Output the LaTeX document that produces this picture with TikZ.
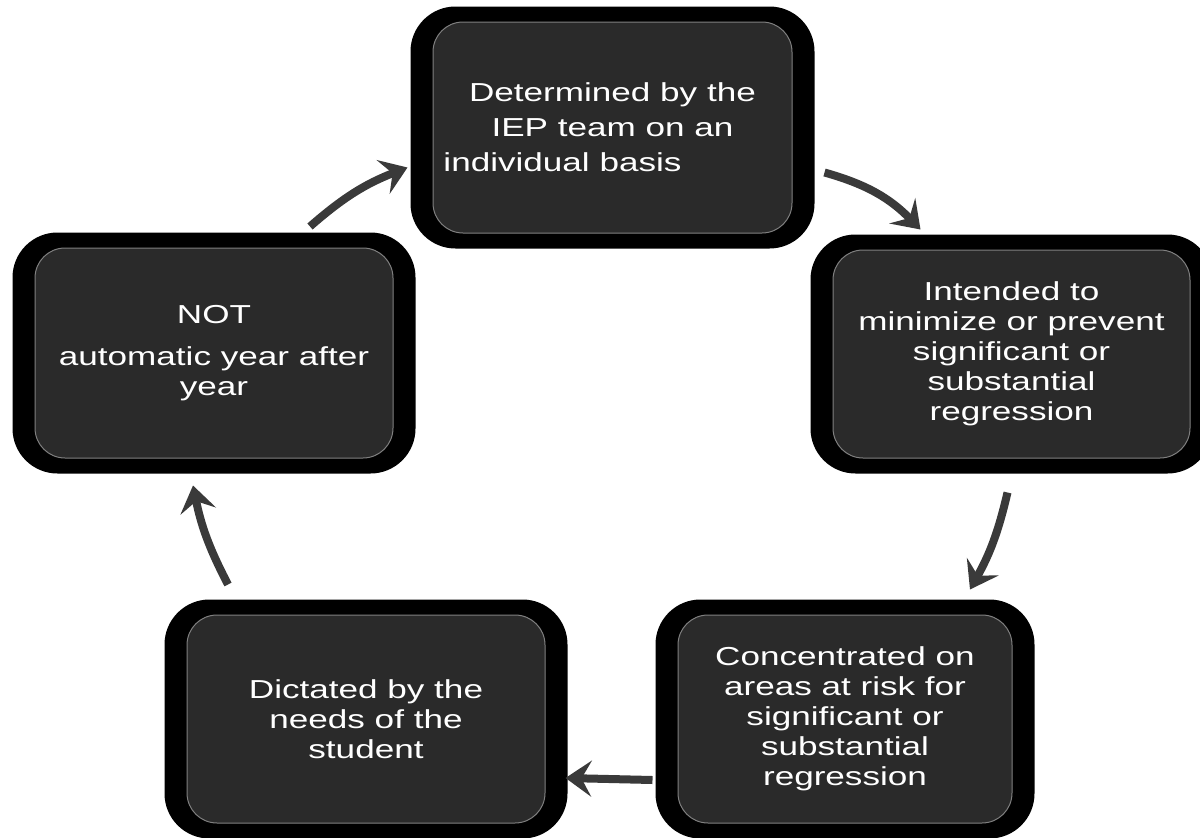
\documentclass[tikz,border=0pt]{standalone}
\usepackage{fontspec}
\setmainfont{Liberation Sans}[FakeStretch=1.35]
\usetikzlibrary{arrows.meta,backgrounds}
\definecolor{boxgray}{HTML}{2A2A2A}
\definecolor{arrowgray}{HTML}{3A3A3A}
\tikzset{
    cyclebox/.style={fill=boxgray, draw=black!50, line width=1pt, rounded corners=30pt,
        text=white, align=center, inner sep=0pt, font=\fontsize{26}{30}\selectfont},
    cyclearrow/.style={draw=arrowgray, line width=8pt,
        -{Stealth[length=26pt,width=36pt,inset=10pt]}},
}

\begin{document}
\begin{tikzpicture}[x=1pt, y=-1pt]

    \useasboundingbox (0,0) rectangle (1200,838);

    % --- BOXES ---
    \node[cyclebox, font=\fontsize{26}{35}\selectfont, minimum width=359pt, minimum height=211pt]
        (determined) at (612.5,127.5) {Determined by the\\IEP team on an\\individual basis\kern100pt};
    \node[cyclebox, minimum width=357pt, minimum height=208pt]
        (intended) at (1011.5,354) {Intended to\\minimize or prevent\\significant or\\substantial\\regression};
    \node[cyclebox, minimum width=334pt, minimum height=208pt]
        (concentrated) at (845,719) {Concentrated on\\areas at risk for\\significant or\\substantial\\regression};
    \node[cyclebox, minimum width=358pt, minimum height=208pt]
        (dictated) at (366,719) {Dictated by the\\needs of the\\student};
    \node[cyclebox, minimum width=358pt, minimum height=210pt]
        (notauto) at (214,353) {NOT\\[12pt]automatic year after\\year};

    % --- BLACK HALO ---
    \begin{scope}[on background layer]
        \foreach \b in {determined,intended,concentrated,dictated,notauto}
            \fill[black, rounded corners=45pt] ([xshift=-22pt,yshift=-15pt]\b.south west)
                rectangle ([xshift=22pt,yshift=15pt]\b.north east);
    \end{scope}

    % --- ARROWS ---
    \draw[cyclearrow] ([xshift=96pt,yshift=21pt]notauto.north) to[bend left=10]
        ([xshift=-25pt,yshift=-40pt]determined.west);
    \draw[cyclearrow] ([xshift=32pt,yshift=-45pt]determined.east) to[bend left=15]
        ([xshift=-91pt,yshift=20pt]intended.north);
    \draw[cyclearrow] ([xshift=-4pt,yshift=-34pt]intended.south) to[bend left=8]
        ([xshift=125pt,yshift=25pt]concentrated.north);
    \draw[cyclearrow] ([xshift=-25pt,yshift=-61pt]concentrated.west) --
        ([xshift=20pt,yshift=-59pt]dictated.east);
    \draw[cyclearrow] ([xshift=-138pt,yshift=30pt]dictated.north) to[bend left=8]
        ([xshift=-21pt,yshift=-27pt]notauto.south);

\end{tikzpicture}
\end{document}
